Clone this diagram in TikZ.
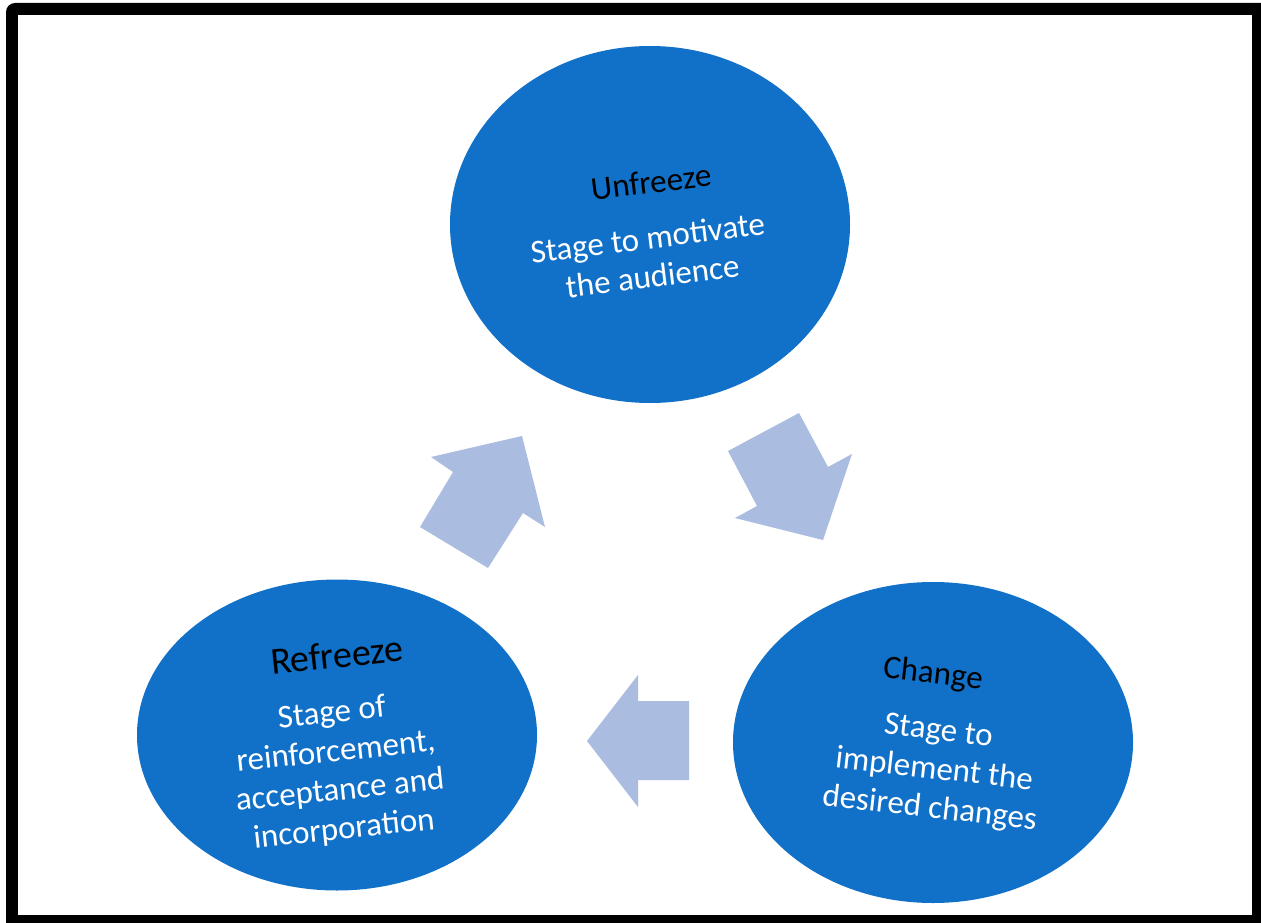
\documentclass[tikz,border=0pt]{standalone}
\usepackage{fontspec}
\setmainfont{Carlito}
\usetikzlibrary{shapes.geometric}
\definecolor{stageblue}{RGB}{17,112,199}
\definecolor{arrowblue}{RGB}{170,188,224}
\tikzset{
  stage/.style={ellipse, fill=stageblue, draw=none, inner sep=0pt, minimum width=400pt},
  ttl/.style={text=black, font=\fontsize{33}{40}\selectfont, inner sep=0pt},
  body/.style={text=white, font=\fontsize{33}{39}\selectfont, inner sep=0pt, align=center}
}
\tikzset{blockarrow/.style={fill=arrowblue, draw=none}}
\begin{document}
\begin{tikzpicture}[x=1pt,y=-1pt]
\useasboundingbox (0,0) rectangle (1261,923);
\clip (0,0) rectangle (1261,923);
\fill[white] (0,0) rectangle (1261,923);
% frame
\fill[black, rounded corners=9pt] (6,3) rectangle (1290,950);
\fill[white] (18,15) rectangle (1252,915);
% stages
\node[stage, minimum height=357pt] (unf) at (650,224.5) {};
\node[stage, minimum height=311pt] (ref) at (337,735) {};
\node[stage, minimum height=321pt] (chg) at (933,742.5) {};
% texts
\node[ttl, rotate=7] (unft) at (651,182) {Unfreeze};
\node[body, rotate=7] (unfb) at (650,257) {Stage to motivate\\the audience};
\node[ttl, rotate=6, font=\fontsize{38}{44}\selectfont] (reft) at (337,655) {Refreeze};
\node[body, rotate=6] (refb) at (338,772) {Stage of\\reinforcement,\\acceptance and\\incorporation};
\node[ttl, rotate=-6.5] (chgt) at (933,675) {Change};
\node[body, rotate=-6.5] (chgb) at (934,771) {Stage to\\implement the\\desired changes};
% block arrows
\fill[blockarrow] (728,451) -- (799,413) -- (828,467) -- (852,454) -- (823,540) -- (735,518) -- (757,506) -- cycle;
\fill[blockarrow] (689,701) -- (638,701) -- (638,675) -- (587,741) -- (638,807) -- (638,780) -- (689,780) -- cycle;
\fill[blockarrow] (420,527) -- (453,472) -- (431,457) -- (522,436) -- (545,527) -- (523,513) -- (488,568) -- cycle;
\end{tikzpicture}
\end{document}
